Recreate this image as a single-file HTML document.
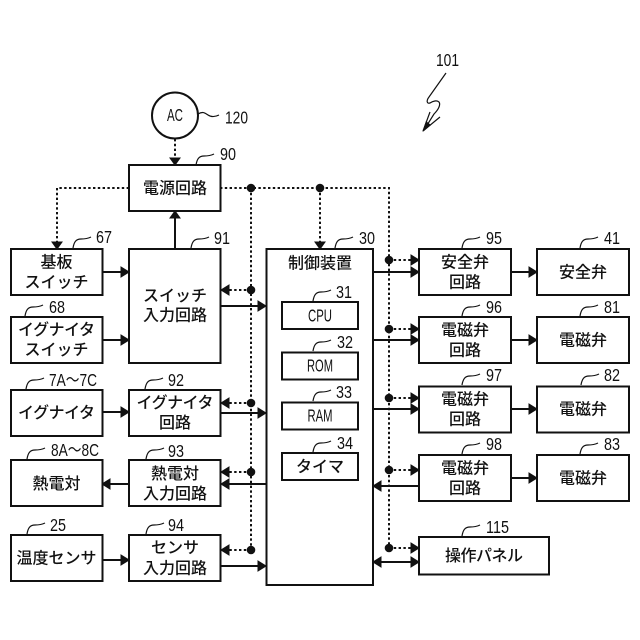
<!DOCTYPE html>
<html><head><meta charset="utf-8"><style>
html,body{margin:0;padding:0;background:#fff}
svg{display:block}
text{fill:#111;font-family:"Liberation Sans","Noto Sans CJK JP",sans-serif}
.j{font-size:16px;text-anchor:middle;font-weight:500}
.n{font-size:17.500px}
.b{fill:#fff;stroke:#111;stroke-width:2}
.s{fill:none;stroke:#111;stroke-width:2}
.d{fill:none;stroke:#111;stroke-width:2;stroke-dasharray:2.400 2.400}
.l{fill:none;stroke:#111;stroke-width:1.200}
.a{fill:#111;stroke:#111;stroke-width:1}
.o{fill:#111}
</style></head><body>
<svg width="640" height="640" viewBox="0 0 640 640" xmlns="http://www.w3.org/2000/svg">
<!-- dotted -->
<path class="d" d="M175 139V158M129 188H57V242M220 188H389V548M251 188V550M320 188V242"/>
<path class="d" d="M251 290H228M251 403H228M251 472H228M251 550H228"/>
<path class="d" d="M389 260H412M389 329H412M389 398H412M389 470H412M389 548H412"/>
<!-- solid -->
<path class="s" d="M175 249V218M102 272H122M102 340H122M102 412H122M129 484H109M102 560H122"/>
<path class="s" d="M220 306H259M220 413H259M266 484H228M220 566H259"/>
<path class="s" d="M373 272H412M373 340H412M373 409H412M419 486H380M380 562H412"/>
<path class="s" d="M511 272H530M511 340H530M511 409H530M511 478H530"/>
<!-- arrowheads -->
<path class="a" d="M170 158h10l-5 7zM52 242h10l-5 7zM315 242h10l-5 7zM170 218h10l-5 -7z"/>
<path class="a" d="M121 267v10l8-5zM121 335v10l8-5zM121 407v10l8-5zM121 555v10l8-5z"/>
<path class="a" d="M110 479v10l-8-5z"/>
<path class="a" d="M258 301v10l8-5zM258 408v10l8-5zM258 561v10l8-5z"/>
<path class="a" d="M229 479v10l-8-5zM229 285v10l-8-5zM229 398v10l-8-5zM229 467v10l-8-5zM229 545v10l-8-5z"/>
<path class="a" d="M411 255v10l8-5zM411 267v10l8-5zM411 324v10l8-5zM411 335v10l8-5zM411 393v10l8-5zM411 404v10l8-5zM411 465v10l8-5zM411 543v10l8-5zM411 557v10l8-5z"/>
<path class="a" d="M381 481v10l-8-5zM381 557v10l-8-5z"/>
<path class="a" d="M529 267v10l8-5zM529 335v10l8-5zM529 404v10l8-5zM529 473v10l8-5z"/>
<!-- dots -->
<g class="o">
<circle cx="251" cy="188" r="4.300"/><circle cx="320" cy="188" r="4.300"/>
<circle cx="251" cy="290" r="4.300"/><circle cx="251" cy="403" r="4.300"/><circle cx="251" cy="472" r="4.300"/><circle cx="251" cy="550" r="4.300"/>
<circle cx="389" cy="260" r="4.300"/><circle cx="389" cy="329" r="4.300"/><circle cx="389" cy="398" r="4.300"/><circle cx="389" cy="470" r="4.300"/><circle cx="389" cy="548" r="4.300"/>
</g>
<!-- boxes -->
<circle class="b" cx="175" cy="115.500" r="23"/>
<rect class="b" x="129" y="165" width="91.500" height="46"/>
<rect class="b" x="129" y="249" width="91.500" height="114"/>
<rect class="b" x="11" y="249" width="91.500" height="46"/>
<rect class="b" x="11" y="317" width="91.500" height="46"/>
<rect class="b" x="11" y="390" width="91.500" height="46"/>
<rect class="b" x="129" y="390" width="91.500" height="46"/>
<rect class="b" x="11" y="460" width="91.500" height="46"/>
<rect class="b" x="129" y="460" width="91.500" height="46"/>
<rect class="b" x="11" y="535" width="91.500" height="46"/>
<rect class="b" x="129" y="535" width="91.500" height="46"/>
<rect x="266.500" y="249" width="106.500" height="336" class="b"/>
<rect class="b" x="282" y="302" width="76" height="27"/>
<rect class="b" x="282" y="352.500" width="76" height="27"/>
<rect class="b" x="282" y="402.500" width="76" height="27"/>
<rect class="b" x="282" y="453" width="76" height="27"/>
<rect class="b" x="419" y="249" width="92" height="46"/>
<rect class="b" x="537" y="249" width="92" height="46"/>
<rect class="b" x="419" y="317" width="92" height="46"/>
<rect class="b" x="537" y="317" width="92" height="46"/>
<rect class="b" x="419" y="386.500" width="92" height="46"/>
<rect class="b" x="537" y="386.500" width="92" height="46"/>
<rect class="b" x="419" y="455" width="92" height="46"/>
<rect class="b" x="537" y="455" width="92" height="46"/>
<rect class="b" x="419" y="537" width="130" height="37.500"/>
<!-- Japanese labels -->
<g class="j">
<text x="175" y="193.500">電源回路</text>
<text x="56.500" y="267.500">基板</text>
<text x="56.500" y="287.500">スイッチ</text>
<text x="175" y="301">スイッチ</text>
<text x="175" y="320.500">入力回路</text>
<text x="56.500" y="335" textLength="77" lengthAdjust="spacing">イグナイタ</text>
<text x="56.500" y="355">スイッチ</text>
<text x="56.500" y="418" textLength="77" lengthAdjust="spacing">イグナイタ</text>
<text x="175" y="408" textLength="77" lengthAdjust="spacing">イグナイタ</text>
<text x="175" y="428">回路</text>
<text x="56.500" y="489">熱電対</text>
<text x="175" y="479">熱電対</text>
<text x="175" y="499">入力回路</text>
<text x="56.500" y="563.500" textLength="80" lengthAdjust="spacing">温度センサ</text>
<text x="175" y="553">センサ</text>
<text x="175" y="573.500">入力回路</text>
<text x="320" y="268.500">制御装置</text>
<text x="320" y="472">タイマ</text>
<text x="465" y="267.500">安全弁</text><text x="465" y="287.500">回路</text>
<text x="583" y="277.500">安全弁</text>
<text x="465" y="335.500">電磁弁</text><text x="465" y="355.500">回路</text>
<text x="583" y="345.500">電磁弁</text>
<text x="465" y="404.500">電磁弁</text><text x="465" y="424.500">回路</text>
<text x="583" y="414.500">電磁弁</text>
<text x="465" y="473.500">電磁弁</text><text x="465" y="493.500">回路</text>
<text x="583" y="483.500">電磁弁</text>
<text x="484" y="561" textLength="78" lengthAdjust="spacing">操作パネル</text>
</g>
<!-- ASCII labels inside boxes -->
<g class="n" text-anchor="middle">
<text x="175" y="121" textLength="16" lengthAdjust="spacingAndGlyphs">AC</text>
<text x="320" y="321.500" textLength="24" lengthAdjust="spacingAndGlyphs">CPU</text>
<text x="320" y="371.500" textLength="26" lengthAdjust="spacingAndGlyphs">ROM</text>
<text x="320" y="421.500" textLength="25" lengthAdjust="spacingAndGlyphs">RAM</text>
</g>
<!-- reference numbers -->
<g class="n">
<text x="225" y="123.500" textLength="23" lengthAdjust="spacingAndGlyphs">120</text>
<text x="220" y="160" textLength="16" lengthAdjust="spacingAndGlyphs">90</text>
<text x="96" y="243" textLength="16" lengthAdjust="spacingAndGlyphs">67</text>
<text x="214" y="244" textLength="16" lengthAdjust="spacingAndGlyphs">91</text>
<text x="49" y="313" textLength="16" lengthAdjust="spacingAndGlyphs">68</text>
<text x="49" y="386" textLength="48" lengthAdjust="spacingAndGlyphs">7A～7C</text>
<text x="168" y="386" textLength="16" lengthAdjust="spacingAndGlyphs">92</text>
<text x="51" y="456" textLength="48" lengthAdjust="spacingAndGlyphs">8A～8C</text>
<text x="168" y="457" textLength="16" lengthAdjust="spacingAndGlyphs">93</text>
<text x="50" y="531" textLength="16" lengthAdjust="spacingAndGlyphs">25</text>
<text x="168" y="531" textLength="16" lengthAdjust="spacingAndGlyphs">94</text>
<text x="359" y="244" textLength="16" lengthAdjust="spacingAndGlyphs">30</text>
<text x="336" y="298" textLength="16" lengthAdjust="spacingAndGlyphs">31</text>
<text x="337" y="348" textLength="16" lengthAdjust="spacingAndGlyphs">32</text>
<text x="336" y="398" textLength="16" lengthAdjust="spacingAndGlyphs">33</text>
<text x="337" y="449" textLength="16" lengthAdjust="spacingAndGlyphs">34</text>
<text x="486" y="244" textLength="16" lengthAdjust="spacingAndGlyphs">95</text>
<text x="486" y="313" textLength="16" lengthAdjust="spacingAndGlyphs">96</text>
<text x="486" y="381" textLength="16" lengthAdjust="spacingAndGlyphs">97</text>
<text x="486" y="450" textLength="16" lengthAdjust="spacingAndGlyphs">98</text>
<text x="604" y="244" textLength="16" lengthAdjust="spacingAndGlyphs">41</text>
<text x="604" y="313" textLength="16" lengthAdjust="spacingAndGlyphs">81</text>
<text x="604" y="381" textLength="16" lengthAdjust="spacingAndGlyphs">82</text>
<text x="604" y="450" textLength="16" lengthAdjust="spacingAndGlyphs">83</text>
<text x="486" y="533" textLength="23" lengthAdjust="spacingAndGlyphs">115</text>
<text x="436" y="66" textLength="23" lengthAdjust="spacingAndGlyphs">101</text>
</g>
<!-- leaders -->
<g class="l">
<path d="M198 114c5-3 7-1 10 1s7 2 11 0"/>
<path d="M196 165c1-6 3-9 8-9s8-1 10-2"/>
<path d="M73 248c1-6 3-9 8-9s8-1 10-2"/>
<path d="M191 248c1-6 3-9 8-9s8-1 10-2"/>
<path d="M25 316c1-6 3-9 8-9s8-1 10-2"/>
<path d="M26 389c1-6 3-9 8-9s8-1 10-2"/>
<path d="M145 389c1-6 3-9 8-9s8-1 10-2"/>
<path d="M27 459c1-6 3-9 8-9s8-1 10-2"/>
<path d="M146 459c1-6 3-9 8-9s8-1 10-2"/>
<path d="M27 534c1-6 3-9 8-9s8-1 10-2"/>
<path d="M146 534c1-6 3-9 8-9s8-1 10-2"/>
<path d="M335 248c1-6 3-9 8-9s8-1 10-2"/>
<path d="M313 301c1-6 3-9 8-9s8-1 10-2"/>
<path d="M313 351c1-6 3-9 8-9s8-1 10-2"/>
<path d="M313 401c1-6 3-9 8-9s8-1 10-2"/>
<path d="M313 452c1-6 3-9 8-9s8-1 10-2"/>
<path d="M462 248c1-6 3-9 8-9s8-1 10-2"/>
<path d="M580 248c1-6 3-9 8-9s8-1 10-2"/>
<path d="M462 316c1-6 3-9 8-9s8-1 10-2"/>
<path d="M580 316c1-6 3-9 8-9s8-1 10-2"/>
<path d="M462 385c1-6 3-9 8-9s8-1 10-2"/>
<path d="M581 385c1-6 3-9 8-9s8-1 10-2"/>
<path d="M462 454c1-6 3-9 8-9s8-1 10-2"/>
<path d="M580 454c1-6 3-9 8-9s8-1 10-2"/>
<path d="M462 536c1-6 3-9 8-9s8-1 10-2"/>
<path d="M446 73L429 97c-3 4-2 7 1 6c3-2 7-3 9-1c2 3-1 8-5 12L424 130"/>
<path d="M423 131L430 112M423 131L440 117"/>
</g>
<path class="o" d="M422.500 132L426 121L431 125z"/>
</svg>
</body></html>
